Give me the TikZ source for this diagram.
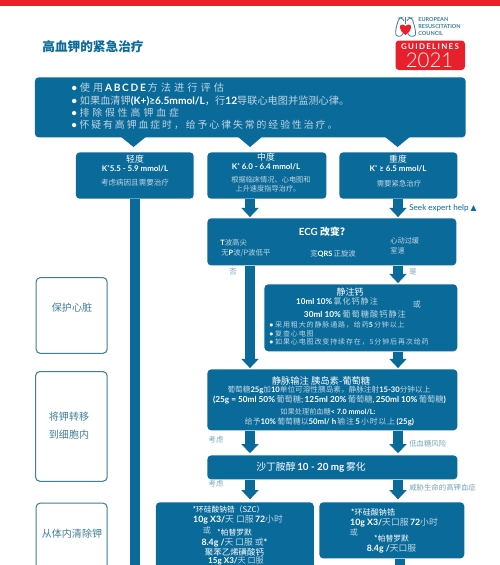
\documentclass[tikz,border=0pt]{standalone}
\usepackage{fontspec}
\usetikzlibrary{arrows.meta}
\setmainfont{Lato}
\newfontfamily\lightf{Lato Light}
\newfontfamily\cjk{Noto Sans CJK SC}
\newfontfamily\cjkw[LetterSpace=30]{Noto Sans CJK SC}
\newfontfamily\cjkx[LetterSpace=20]{Noto Sans CJK SC}
\newfontfamily\cjkm[LetterSpace=12]{Noto Sans CJK SC}
\newfontfamily\sym{DejaVu Sans}
\definecolor{boxblue}{HTML}{0A6A99}
\definecolor{pale}{HTML}{BFD6E3}
\definecolor{ercred}{HTML}{E8202B}
\definecolor{sideline}{HTML}{3F7F98}
\newcommand\sz[1]{\fontsize{#1}{#1}\selectfont}
\newcommand\zh[1]{{\color{pale}\cjk #1}}
\newcommand\zw[1]{{\color{pale}\cjkw #1}}
\newcommand\zx[1]{{\color{pale}\cjkx #1}}
\newcommand\zm[1]{{\color{pale}\cjkm #1}}
\newcommand\zb[1]{{\color{white}\cjk #1}}
\newcommand\en[1]{{\color{white}\bfseries #1}}
\tikzset{
  bluebox/.style={fill=boxblue,draw=none,rounded corners=2.2pt,inner sep=0pt},
  sidebox/.style={draw=sideline,line width=0.6pt,fill=white,rounded corners=2.5pt,inner sep=0pt},
  txt/.style={inner sep=0pt,align=center,text=white},
  lft/.style={inner sep=0pt,anchor=west,text=white},
  fat/.style={draw=boxblue,line width=5.7pt,-{Triangle[length=5.2pt,width=9.5pt]}},
  stem/.style={draw=boxblue,line width=5.7pt},
  sidetxt/.style={inner sep=0pt,align=center,text=sideline,font=\cjk\sz{5.7}},
  note/.style={inner sep=0pt,text=sideline!70!white,font=\cjk\sz{4.2}},
}
\begin{document}
\begin{tikzpicture}[x=0.02cm,y=-0.02cm]
\useasboundingbox (0,0) rectangle (500,565);
\clip (0,0) rectangle (500,565);
\fill[white] (0,0) rectangle (500,565);
\fill[ercred] (0,0) rectangle (500,6);

% columns
\coordinate (colL) at (250,0);
\coordinate (colR) at (398,0);
\coordinate (colM) at (135,0);
\coordinate (pageB) at (135,570);

\node[inner sep=0pt,anchor=west,text=boxblue,font=\cjk\bfseries\sz{7.2}] (title) at (42,47) {高血钾的紧急治疗};

% logo
\draw[sideline,line width=0.45pt,rounded corners=1.5pt] (404,21) -- (402,17.5) -- (399,18) -- (396,28) -- (395.5,36) -- (402,36.5) -- (403,33);
\draw[sideline,line width=0.45pt,rounded corners=1.5pt] (407,21) -- (409,17.5) -- (412,18) -- (415,28) -- (416,36) -- (409,36.5) -- (408,33);
\draw[sideline,line width=0.45pt] (405.5,17) -- (405.5,24);
\fill[ercred] (405.5,35) .. controls (398,30) and (399,24) .. (402.5,24.5) .. controls (404,24.7) and (405,25.5) .. (405.5,26.5) .. controls (406,25.5) and (407,24.7) .. (408.5,24.5) .. controls (412,24) and (413,30) .. (405.5,35) -- cycle;
\node[lft,text=sideline,font=\bfseries\sz{3.15}] (eu1) at (418,19.3) {EUROPEAN};
\node[lft,text=sideline,font=\bfseries\sz{3.15}] (eu2) at (418,26.5) {RESUSCITATION};
\node[lft,text=sideline,font=\bfseries\sz{3.15}] (eu3) at (418,33.8) {COUNCIL};
\fill[ercred,rounded corners=2pt] (395.5,40.5) rectangle (465,70);
\node[txt,font=\bfseries\sz{4.5}] (gl) at (430,46.5) {G\,U\,I\,D\,E\,L\,I\,N\,E\,S};
\node[txt,font=\lightf\sz{11.6}] (yr) at (429.5,60) {2021};

% top box
\fill[boxblue] (120,136) -- (133.5,147) -- (147,136) -- cycle;
\fill[boxblue] (237,136) -- (250,147) -- (263,136) -- cycle;
\fill[boxblue] (384,136) -- (397.5,147) -- (411,136) -- cycle;
\node[bluebox,minimum width=245.2pt,minimum height=34.2pt,anchor=north west] (top) at (34.5,77) {};
\node[lft,font=\sz{5.8}] (t1) at (71,88) {\en{•} \zw{使用}\en{\,A\,B\,C\,D\,E\,}\zw{方法进行评估}};
\node[lft,font=\sz{5.8}] (t2) at (71,101) {\en{•} \zh{如果血清钾}\en{(K+)≥6.5mmol/L}\zb{，}\zh{行}\en{12}\zh{导联心电图并监测心律。}};
\node[lft,font=\sz{5.6}] (t3) at (71,113) {\en{•} \zw{排除假性高钾血症}};
\node[lft,font=\sz{5.6}] (t4) at (71,125) {\en{•} \zx{怀疑有高钾血症时，给予心律失常的经验性治疗。}};

% severity boxes
\node[bluebox,minimum width=67.1pt,minimum height=26.4pt,anchor=north west] (mild) at (75.5,152) {};
\node[txt,font=\cjk\sz{5}] at (135,159.5) {轻度};
\node[txt,font=\bfseries\sz{4.5}] at (135,169) {K⁺5.5 - 5.9 mmol/L};
\node[txt,font=\sz{4.3}] at (135,183) {\zh{考虑病因且需要治疗}};

\node[bluebox,minimum width=67.8pt,minimum height=26.4pt,anchor=north west] (mod) at (207,152) {};
\node[txt,font=\cjk\sz{5}] at (266,157.5) {中度};
\node[txt,font=\bfseries\sz{4.5}] at (266,167) {K⁺ 6.0 - 6.4 mmol/L};
\node[txt,font=\sz{4.1}] at (271,180) {\zh{根据临床情况、心电图和}};
\node[txt,font=\sz{4.1}] at (268,189) {\zh{上升速度指导治疗。}};

\node[bluebox,minimum width=67.2pt,minimum height=26.4pt,anchor=north west] (sev) at (339,152) {};
\node[txt,font=\cjk\sz{5}] at (398,159.5) {重度};
\node[txt,font=\bfseries\sz{4.5}] at (398,169) {K⁺ ≥ 6.5 mmol/L};
\node[txt,font=\sz{4.2}] at (399,184) {\zh{需要紧急治疗}};

% ECG
\node[bluebox,minimum width=141.7pt,minimum height=26.8pt,anchor=north west] (ecg) at (207,218) {};
\node[txt,font=\bfseries\sz{5.6}] at (322,232) {ECG \zb{改变?}};
\node[lft,font=\sz{4.2}] at (220,243) {\en{T}\zh{波高尖}};
\node[lft,font=\sz{4.2}] at (221,253.5) {\zh{无}\en{P}\zh{波/P波低平}};
\node[lft,font=\sz{4.2}] at (310,253.5) {\zh{宽}\en{QRS}\,\zh{正旋波}};
\node[lft,font=\sz{4.1}] at (390,241) {\zh{心动过缓}};
\node[lft,font=\sz{4.1}] at (390,251) {\zh{室速}};

% calcium
\node[bluebox,minimum width=109.8pt,minimum height=38.1pt,anchor=north west] (calc) at (264,284) {};
\node[txt,font=\cjk\sz{5.1}] at (350,292) {静注钙};
\node[txt,font=\sz{4.6}] at (337,301.5) {\en{10ml 10\%}\,\zm{氯化钙静注}};
\node[txt,font=\sz{4.6}] at (417,304) {\zh{或}};
\node[txt,font=\sz{4.7}] at (355,314) {\en{30ml 10\%}\,\zm{葡萄糖酸钙静注}};
\node[lft,font=\sz{4}] at (269,325) {\en{•} \zm{采用粗大的静脉通路，给药}\en{5}\,\zm{分钟以上}};
\node[lft,font=\sz{4}] at (269,333.5) {\en{•} \zm{复查心电图}};
\node[lft,font=\sz{4}] at (269,342) {\en{•} \zm{如果心电图改变持续存在，5分钟后再次给药}};

% insulin
\node[bluebox,minimum width=142.3pt,minimum height=34.7pt,anchor=north west] (ins) at (207,369) {};
\node[txt,font=\cjk\sz{5.3}] at (321,380.5) {静脉输注 胰岛素-葡萄糖};
\node[txt,font=\sz{4.35}] at (329,390) {\zh{葡萄糖}\en{25g}\zh{加}\en{10}\zh{单位可溶性胰岛素，静脉注射}\en{15-30}\zh{分钟以上}};
\node[txt,font=\sz{4.7}] at (329.5,400) {\en{(25g = 50ml 50\%}\,\zh{葡萄糖};\,\en{125ml 20\%}\,\zh{葡萄糖},\,\en{250ml 10\%}\,\zh{葡萄糖}\en{)}};
\node[txt,font=\sz{4.1}] at (328,412) {\zh{如果处理前血糖}\en{< 7.0 mmol/L:}};
\node[txt,font=\sz{4.45}] at (329.5,421.5) {\zh{给予}\en{10\%}\,\zh{葡萄糖以}\en{50ml/ h}\,\zm{输注}\,\en{5}\,\zm{小时以上}\,\en{(25g)}};

% salbutamol
\node[bluebox,minimum width=142.3pt,minimum height=13.7pt,anchor=north west] (salb) at (207,455) {};
\node[txt,font=\sz{5.6}] at (311,467.5) {\zb{沙丁胺醇}\,\en{10 - 20 mg}\,\zb{雾化}};

% removal boxes
\node[bluebox,minimum width=89.9pt,minimum height=50pt,anchor=north west] (szcL) at (155.5,502) {};
\node[txt,font=\sz{4.4}] at (228.5,510) {\zb{*环硅酸钠锆（SZC）}};
\node[txt,font=\sz{5}] at (238,520) {\en{10g X3/}\zh{天 口服}\,\en{72}\zh{小时}};
\node[txt,font=\sz{4.6}] at (207,530) {\zh{或}};
\node[txt,font=\sz{4.4}] at (234.5,532.5) {\zb{*帕替罗默}};
\node[txt,font=\sz{5}] at (234.5,542.5) {\en{8.4g /}\zh{天 口服 或}\en{*}};
\node[txt,font=\sz{4.8}] at (234.5,552.5) {\zb{聚苯乙烯磺酸钙}};
\node[txt,font=\sz{4.6}] at (236,561) {\en{15g X3/}\zh{天 口服}};

\node[bluebox,minimum width=82.5pt,minimum height=31.9pt,anchor=north west] (szcR) at (319,502) {};
\node[txt,font=\sz{4.6}] at (373,512) {\zb{*环硅酸钠锆}};
\node[txt,font=\sz{5}] at (394,522.5) {\en{10g X3/}\zh{天口服}\,\en{72}\zh{小时}};
\node[txt,font=\sz{4.6}] at (354,532) {\zh{或}};
\node[txt,font=\sz{4.4}] at (391.5,538.5) {\zb{*帕替罗默}};
\node[txt,font=\sz{5}] at (391.5,548.5) {\en{8.4g /}\zh{天口服}};

% side boxes
\node[sidebox,minimum width=40.5pt,minimum height=43.2pt,anchor=north west] (s1) at (35.5,277) {};
\node[sidetxt] at (72,307.5) {保护心脏};
\node[sidebox,minimum width=40.8pt,minimum height=62.5pt,anchor=north west] (s2) at (35,371) {};
\node[sidetxt] at (69,417) {将钾转移};
\node[sidetxt] at (69,435) {到细胞内};
\node[sidebox,minimum width=40.5pt,minimum height=60pt,anchor=north west] (s3) at (35.5,502.5) {};
\node[sidetxt] at (72,533.5) {从体内清除钾};

% connectors
\draw[stem] (mild.south -| colM) -- (pageB);
\draw[fat,shorten >=0.5pt] (mod.south -| colL) -- (ecg.north -| colL);
\draw[fat,shorten >=0.5pt] (sev.south -| colR) -- (ecg.north -| colR);
\draw[fat,shorten >=0.5pt] (ecg.south -| colL) -- (ins.north -| colL);
\draw[fat,shorten >=0.5pt] (ecg.south -| colR) -- (calc.north -| colR);
\draw[fat,shorten >=0.5pt] (calc.south -| colR) -- (ins.north -| colR);
\draw[fat,shorten >=1pt] (ins.south -| colL) -- (salb.north -| colL);
\draw[fat,shorten >=1pt] (ins.south -| colR) -- (salb.north -| colR);
\draw[fat,shorten >=1.5pt] (salb.south -| colL) -- (szcL.north -| colL);
\draw[fat,shorten >=1.5pt] (salb.south -| colR) -- (szcR.north -| colR);
\coordinate (endR) at (400,580);
\draw[fat] (szcR.south -| endR) -- (endR);

% connector notes
\node[inner sep=0pt,anchor=west,text=boxblue,font=\sz{4.6}] (seek) at (409,208) {Seek expert help {\sym\sz{4.4}▲}};
\node[note] at (233,272) {否};
\node[note] at (413,272) {是};
\node[note] at (216,440) {考虑};
\node[note,anchor=west] at (409,444) {低血糖风险};
\node[note] at (216,484) {考虑};
\node[note,anchor=west] at (409,488) {威胁生命的高钾血症};
\end{tikzpicture}
\end{document}
